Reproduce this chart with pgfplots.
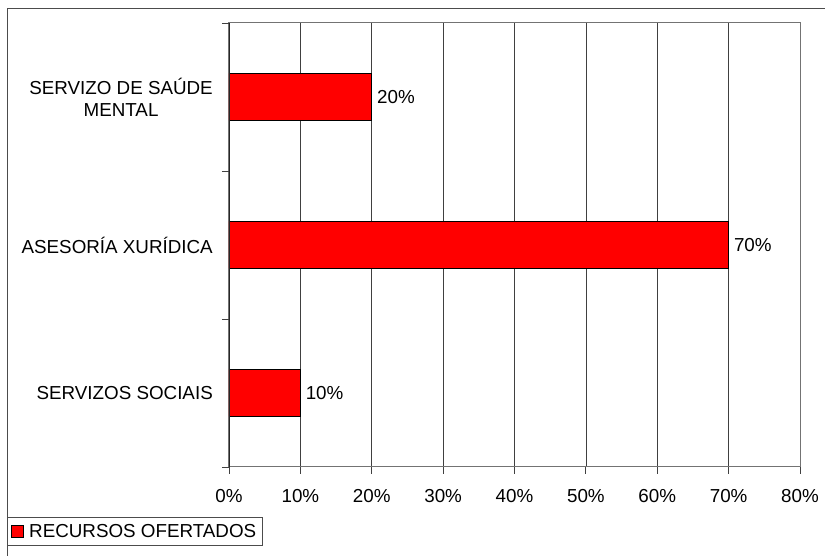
\documentclass[border=0pt]{standalone}
\usepackage{pgfplots}
\pgfplotsset{compat=1.18}
\usepackage{fontspec}
\setmainfont{Liberation Sans}
\begin{document}
\begin{tikzpicture}[x=1pt,y=1pt]
\useasboundingbox (0,0) rectangle (825,556);
\draw[black!70, line width=1pt] (7,0) -- (7,547) -- (830,547);
\begin{axis}[
  at={(229pt,89pt)}, anchor=south west,
  scale only axis, width=571pt, height=444pt,
  xbar, bar width=47pt,
  xmin=0, xmax=80, ymin=-0.5, ymax=2.5,
  xtick={0,10,...,80},
  xticklabel={\pgfmathprintnumber{\tick}\%},
  /pgf/number format/assume math mode=true,
  xtick pos=lower, ytick pos=left,
  xmajorgrids, major grid style={black!75, line width=0.7pt},
  axis line style={black!55, line width=1pt},
  x tick style={black!75, line width=0.8pt},
  tick align=outside, major tick length=7pt,
  ytick={0,1,2},
  yticklabels={SERVIZOS SOCIAIS, ASESORÍA XURÍDICA, {SERVIZO DE SAÚDE\\MENTAL}},
  y tick style={draw=none},
  extra y ticks={-0.5,0.5,1.5,2.5},
  extra y tick labels={},
  extra y tick style={grid=none, y tick style={draw=black!75, line width=0.8pt}, major tick length=7pt},
  yticklabel style={align=center, inner sep=0pt, xshift=-9pt, font=\fontsize{18.8}{22}\selectfont},
  xticklabel style={inner sep=0pt, yshift=-15pt, font=\fontsize{18.8}{22}\selectfont},
  nodes near coords={\pgfmathprintnumber{\pgfplotspointmeta}\%},
  nodes near coords style={anchor=west, inner sep=0pt, xshift=5pt, font=\fontsize{18.8}{22}\selectfont, black},
  point meta=x,
  legend style={at={(-0.3888,-0.1779)}, anchor=south west, draw=black!70, line width=0.8pt,
    font=\fontsize{18.8}{22}\selectfont, inner xsep=4pt, inner ysep=5pt,
    legend cell align=left},
  legend image code/.code={\draw[fill=red, draw=black, line width=0.8pt] (2pt,-6pt) rectangle (14pt,6pt);},
]
\addplot[fill=red, draw=black, line width=0.8pt] coordinates {(10,0) (70,1) (20,2)};
\addlegendentry{\hspace{3pt}RECURSOS OFERTADOS\hspace{4pt}}
\draw[black!85, line width=0.9pt] (axis cs:0,-0.5) -- (axis cs:80,-0.5);
\draw[black!85, line width=0.9pt] (axis cs:0,-0.5) -- (axis cs:0,2.5);
\end{axis}
\end{tikzpicture}
\end{document}
